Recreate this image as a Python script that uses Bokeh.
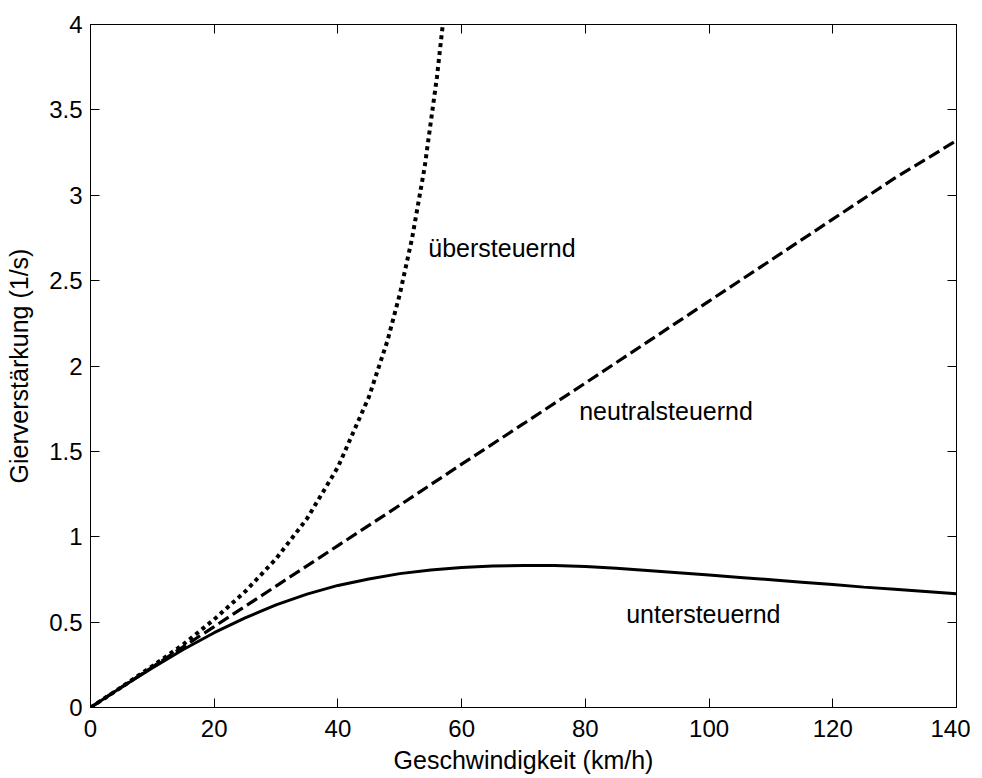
from bokeh.plotting import figure
from bokeh.models import Range1d, LinearAxis, FixedTicker, Label
from bokeh.embed import file_html
from bokeh.resources import INLINE

# ---- data ----
speed_over = [0, 5, 10, 15, 20, 25, 30, 35, 40, 45, 48, 50, 52, 54, 56, 57.2]
gain_over = [0, 0.119, 0.242, 0.370, 0.516, 0.679, 0.871, 1.106, 1.408, 1.818,
             2.147, 2.42, 2.75, 3.16, 3.69, 4.08]

speed_neutral = [0, 10, 20, 30, 40, 50, 60, 70, 80, 90, 100, 110, 120, 130, 140]
gain_neutral = [0, 0.237, 0.474, 0.711, 0.948, 1.185, 1.425, 1.662, 1.90, 2.14,
                2.38, 2.62, 2.86, 3.10, 3.32]

speed_under = [0, 5, 10, 15, 20, 25, 30, 35, 40, 45, 50, 55, 60, 65, 70, 75, 80,
               85, 90, 95, 100, 105, 110, 115, 120, 125, 130, 135, 140]
gain_under = [0, 0.118, 0.232, 0.340, 0.438, 0.525, 0.601, 0.664, 0.715, 0.753,
              0.784, 0.805, 0.820, 0.829, 0.832, 0.832, 0.826, 0.815, 0.802,
              0.789, 0.776, 0.762, 0.748, 0.734, 0.720, 0.705, 0.692, 0.679, 0.666]

x_ticks = [0, 20, 40, 60, 80, 100, 120, 140]
x_tick_labels = ["0", "20", "40", "60", "80", "100", "120", "140"]
y_ticks = [0, 0.5, 1, 1.5, 2, 2.5, 3, 3.5, 4]
y_tick_labels = ["0", "0.5", "1", "1.5", "2", "2.5", "3", "3.5", "4"]

labels_text = ["übersteuernd", "neutralsteuernd", "untersteuernd"]
labels_x = [54.6, 79.0, 86.6]
labels_y = [2.69, 1.737, 0.545]

x_title = "Geschwindigkeit (km/h)"
y_title = "Gierverstärkung (1/s)"

FONT = "Liberation Sans"

p = figure(frame_width=866, frame_height=683, output_backend="svg",
           toolbar_location=None,
           x_range=Range1d(0, 140), y_range=Range1d(0, 4),
           min_border_left=90, min_border_right=14, min_border_top=24,
           min_border_bottom=0)
p.background_fill_color = "white"
p.border_fill_color = "white"
p.outline_line_color = "black"
p.outline_line_width = 1
p.xgrid.visible = False
p.ygrid.visible = False

p.line(speed_under, gain_under, line_color="black", line_width=3)
p.line(speed_neutral, gain_neutral, line_color="black", line_width=3.2,
       line_dash="12 5")
p.line(speed_over, gain_over, line_color="black", line_width=4,
       line_dash="4 4")

def style_axis(ax, ticks, labels, show_labels=True):
    ax.ticker = FixedTicker(ticks=ticks)
    ax.major_label_overrides = {t: l for t, l in zip(ticks, labels)}
    ax.major_tick_in = 9
    ax.major_tick_out = 0
    ax.minor_tick_in = 0
    ax.minor_tick_out = 0
    ax.major_tick_line_color = "black"
    ax.major_tick_line_width = 1
    ax.axis_line_color = "black"
    ax.axis_line_width = 1
    ax.major_label_text_font = FONT
    ax.major_label_text_font_size = "24px" if show_labels else "0px"
    ax.major_label_text_color = "black" if show_labels else None
    ax.major_label_standoff = 8

xa = p.xaxis[0]
style_axis(xa, x_ticks, x_tick_labels)
xa.major_label_standoff = 12
xa.axis_label = x_title
xa.axis_label_text_font = FONT
xa.axis_label_text_font_size = "25px"
xa.axis_label_text_font_style = "normal"
xa.axis_label_text_color = "black"
xa.axis_label_standoff = 6

ya = p.yaxis[0]
style_axis(ya, y_ticks, y_tick_labels)
ya.axis_label = y_title
ya.axis_label_text_font = FONT
ya.axis_label_text_font_size = "25px"
ya.axis_label_text_font_style = "normal"
ya.axis_label_text_color = "black"
ya.axis_label_standoff = 13

top = LinearAxis()
style_axis(top, x_ticks, x_tick_labels, show_labels=False)
top.major_label_standoff = 0
p.add_layout(top, "above")

right = LinearAxis()
style_axis(right, y_ticks, y_tick_labels, show_labels=False)
right.major_label_standoff = 0
p.add_layout(right, "right")

for t, lx, ly in zip(labels_text, labels_x, labels_y):
    p.add_layout(Label(x=lx, y=ly, text=t, text_font=FONT,
                       text_font_size="25px", text_color="black",
                       text_align="left", text_baseline="alphabetic"))

open("out.html", "w").write(file_html(p, INLINE))
